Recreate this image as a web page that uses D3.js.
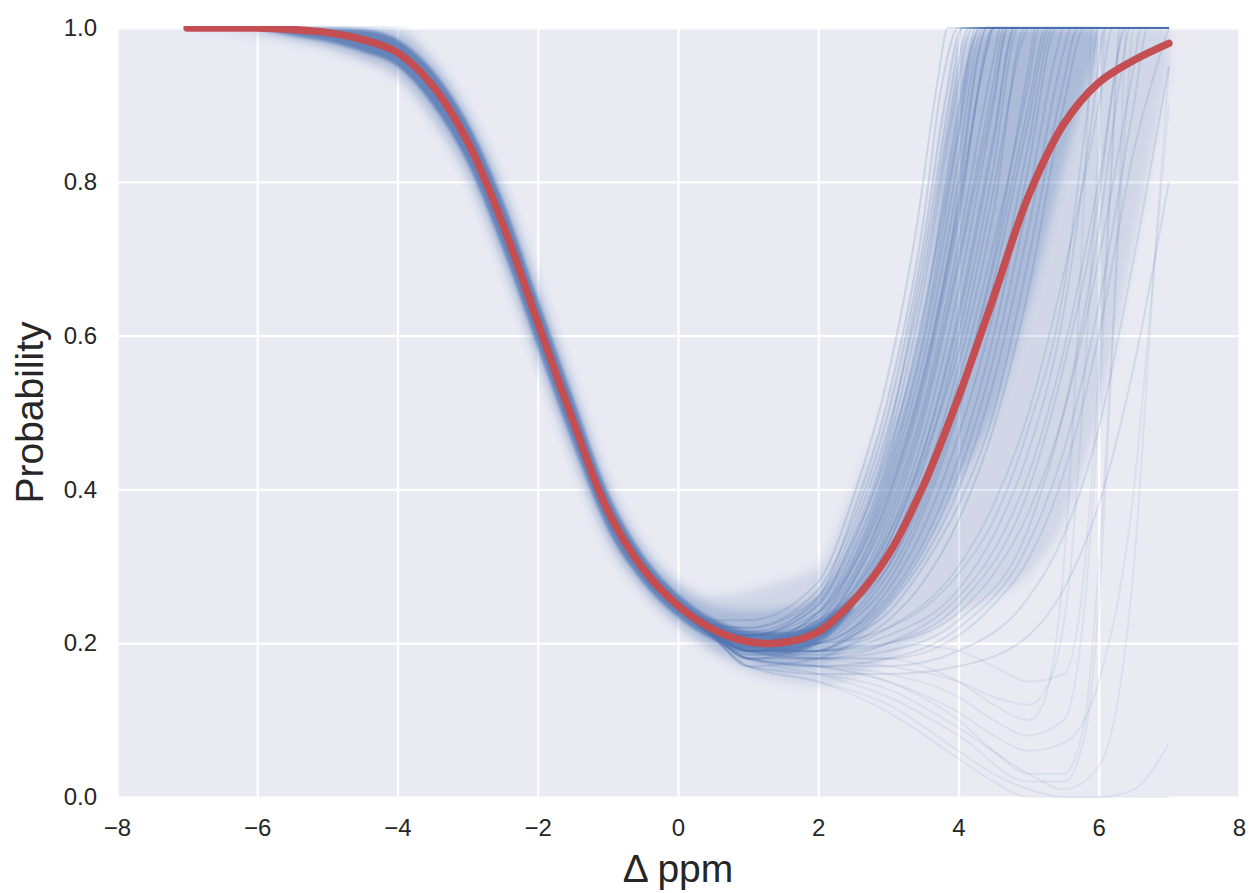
<!DOCTYPE html>
<html>
<head>
<meta charset="utf-8">
<script src="https://cdn.jsdelivr.net/npm/d3@7"></script>
<style>
  body { margin: 0; background: #ffffff; }
  svg { display: block; font-family: "Liberation Sans", Arial, sans-serif; }
</style>
</head>
<body>
<svg id="chart" width="1251" height="893"></svg>
<script>
// ---------------- DATA ----------------
const xGrid = [-7, -6.5, -6, -5.5, -5, -4.5, -4, -3.5, -3, -2.5, -2, -1.5, -1, -0.5, 0,
               0.5, 1, 1.5, 2, 2.5, 3, 3.5, 4, 4.5, 5, 5.5, 6, 6.5, 7];

// red mean curve
const meanP = [1.0, 1.0, 1.0, 0.998, 0.994, 0.985, 0.968, 0.925, 0.852, 0.745, 0.617, 0.49, 0.372, 0.297, 0.249,
               0.218, 0.202, 0.201, 0.215, 0.255, 0.315, 0.405, 0.52, 0.65, 0.782, 0.875, 0.929, 0.958, 0.98];

// faint envelope of all posterior samples
const faintHi = [1, 1, 1, 1, 1, 1, 1, 0.962, 0.895, 0.80, 0.672, 0.543, 0.413, 0.33, 0.282,
                 0.262, 0.268, 0.282, 0.30, 0.40, 0.52, 0.73, 0.98, 1, 1, 1, 1, 1, 1];
const faintLo = [1, 0.996, 0.99, 0.983, 0.972, 0.956, 0.932, 0.876, 0.80, 0.688, 0.562, 0.436, 0.327, 0.265, 0.22,
                 0.185, 0.162, 0.15, 0.145, 0.155, 0.18, 0.21, 0.24, 0.26, 0.29, 0.36, 0.5, 0.72, 0.95];

// denser body of the samples
const midHi = [null, null, 1.0, 1.0, 1.0, 1.0, 0.992, 0.953, 0.885, 0.788, 0.66, 0.531, 0.403, 0.322, 0.274,
               0.249, 0.243, 0.246, 0.265, 0.33, 0.45, 0.62, 0.93, 1, 1, 1, 1.0, null, null];
const midLo = [null, null, 0.998, 0.987, 0.977, 0.962, 0.942, 0.888, 0.812, 0.70, 0.573, 0.448, 0.338, 0.272, 0.226,
               0.195, 0.176, 0.168, 0.172, 0.2, 0.25, 0.32, 0.41, 0.5, 0.64, 0.82, 0.98, null, null];

// dark core where nearly all samples agree
const coreHi = [null, null, 1.0, 1.0, 1.0, 0.998, 0.985, 0.945, 0.877, 0.776, 0.648, 0.52, 0.396, 0.315, 0.264,
                0.232, 0.216, 0.214, 0.228, 0.262, null, null, null, null, null, null, null, null, null];
const coreLo = [null, null, 0.998, 0.99, 0.982, 0.969, 0.95, 0.9, 0.824, 0.713, 0.585, 0.46, 0.348, 0.279, 0.234,
                0.204, 0.188, 0.186, 0.2, 0.244, null, null, null, null, null, null, null, null, null];

// individual posterior sample curves on the right-hand side, as [ppm, probability] knots
const earlyRisers = [
  [[0,.25],[0.5,.225],[1,.22],[2,.27],[2.5,.36],[3,.5],[3.5,.72],[3.8,.9],[4.05,1],[7,1]],
  [[0,.25],[0.5,.222],[1,.21],[2,.25],[2.5,.33],[3,.46],[3.5,.66],[3.9,.88],[4.2,1],[7,1]],
  [[0,.25],[0.5,.22],[1,.2],[2,.24],[2.5,.31],[3,.43],[3.5,.6],[4,.86],[4.3,1],[7,1]],
  [[0,.25],[0.5,.218],[1,.2],[2,.23],[2.5,.3],[3,.41],[3.5,.57],[4,.8],[4.4,1],[7,1]],
  [[0,.248],[0.5,.215],[1,.19],[2,.22],[2.5,.28],[3,.38],[3.5,.53],[4,.75],[4.5,1],[7,1]],
  [[0,.25],[0.5,.22],[1,.21],[2,.24],[2.5,.3],[3,.4],[3.5,.55],[4,.77],[4.35,.95],[4.5,1],[7,1]],
  [[0,.25],[0.5,.218],[1,.2],[2,.22],[2.5,.27],[3,.36],[3.5,.5],[4,.7],[4.5,.93],[4.65,1],[7,1]],
  [[0,.248],[0.5,.215],[1,.19],[2,.21],[2.5,.26],[3,.34],[3.5,.47],[4,.66],[4.5,.9],[4.7,1],[7,1]],
  [[0,.252],[0.5,.225],[1,.22],[2,.26],[2.5,.35],[3,.48],[3.5,.68],[3.85,.87],[4.15,1],[7,1]],
  [[0,.25],[0.5,.22],[1,.2],[2,.23],[2.5,.29],[3,.39],[3.5,.54],[4,.78],[4.3,.97],[4.4,1],[7,1]],
  [[0,.252],[0.5,.225],[1,.21],[2,.26],[2.5,.37],[3,.52],[3.5,.75],[3.75,.92],[4,1],[7,1]],
  [[0,.246],[0.5,.212],[1,.18],[2,.2],[2.5,.25],[3,.33],[3.5,.45],[4,.63],[4.5,.86],[4.8,1],[7,1]],
  [[0,.25],[0.5,.22],[1,.2],[2,.24],[2.5,.32],[3,.44],[3.5,.63],[4,.87],[4.25,1],[7,1]],
  [[0,.248],[0.5,.216],[1,.19],[2,.22],[2.5,.28],[3,.37],[3.5,.51],[4,.72],[4.5,.96],[4.6,1],[7,1]],
  [[0,.255],[0.5,.23],[1,.23],[2,.28],[2.5,.39],[3,.55],[3.4,.74],[3.7,.93],[3.85,1],[7,1]],
  [[0,.252],[0.5,.224],[1,.21],[2,.25],[2.5,.34],[3,.47],[3.5,.7],[3.95,.95],[4.05,1],[7,1]],
  [[0,.25],[0.5,.221],[1,.205],[2,.235],[2.5,.305],[3,.42],[3.5,.59],[4,.83],[4.35,1],[7,1]],
  [[0,.249],[0.5,.219],[1,.2],[2,.225],[2.5,.285],[3,.39],[3.5,.545],[4,.76],[4.4,.97],[4.5,1],[7,1]],
  [[0,.251],[0.5,.222],[1,.215],[2,.255],[2.5,.335],[3,.45],[3.5,.62],[3.9,.84],[4.2,.98],[4.3,1],[7,1]],
  [[0,.249],[0.5,.218],[1,.195],[2,.215],[2.5,.265],[3,.35],[3.5,.49],[4,.69],[4.5,.91],[4.7,1],[7,1]]
];
const middleRisers = [
  [[0,.248],[0.5,.216],[1,.2],[2,.21],[2.5,.24],[3,.3],[3.5,.4],[4,.54],[4.5,.72],[5,.93],[5.15,1],[7,1]],
  [[0,.247],[0.5,.214],[1,.19],[2,.2],[2.5,.23],[3,.28],[3.5,.37],[4,.5],[4.5,.67],[5,.88],[5.3,1],[7,1]],
  [[0,.248],[0.5,.216],[1,.2],[2,.2],[2.5,.22],[3,.26],[3.5,.33],[4,.44],[4.5,.6],[5,.82],[5.4,1],[7,1]],
  [[0,.25],[0.5,.218],[1,.21],[2,.22],[2.5,.26],[3,.32],[3.5,.43],[4,.6],[4.5,.82],[4.85,1],[7,1]],
  [[0,.245],[0.5,.21],[1,.18],[2,.19],[2.5,.21],[3,.25],[3.5,.31],[4,.4],[4.5,.54],[5,.74],[5.5,.97],[5.6,1],[7,1]],
  [[0,.248],[0.5,.216],[1,.2],[2,.21],[2.5,.25],[3,.31],[3.5,.41],[4,.56],[4.5,.76],[4.95,1],[7,1]],
  [[0,.246],[0.5,.213],[1,.19],[2,.19],[2.5,.21],[3,.24],[3.5,.3],[4,.38],[4.5,.5],[5,.7],[5.5,.93],[5.7,1],[7,1]],
  [[0,.248],[0.5,.217],[1,.2],[2,.22],[2.5,.25],[3,.3],[3.5,.39],[4,.52],[4.5,.7],[5,.95],[5.1,1],[7,1]],
  [[0,.244],[0.5,.208],[1,.17],[2,.18],[2.5,.2],[3,.23],[3.5,.28],[4,.36],[4.5,.48],[5,.66],[5.5,.9],[5.8,1],[7,1]],
  [[0,.25],[0.5,.219],[1,.21],[2,.23],[2.5,.27],[3,.34],[3.5,.45],[4,.62],[4.5,.85],[4.8,1],[7,1]],
  [[0,.249],[0.5,.217],[1,.2],[2,.22],[2.5,.26],[3,.33],[3.5,.44],[4,.58],[4.5,.79],[4.9,.98],[5,1],[7,1]],
  [[0,.247],[0.5,.214],[1,.19],[2,.2],[2.5,.22],[3,.27],[3.5,.35],[4,.47],[4.5,.63],[5,.85],[5.35,1],[7,1]],
  [[0,.248],[0.5,.215],[1,.195],[2,.205],[2.5,.235],[3,.29],[3.5,.38],[4,.51],[4.5,.69],[5,.9],[5.25,1],[7,1]],
  [[0,.247],[0.5,.213],[1,.185],[2,.19],[2.5,.215],[3,.255],[3.5,.32],[4,.42],[4.5,.57],[5,.78],[5.4,.97],[5.5,1],[7,1]]
];
const lateRisers = [
  [[0,.246],[0.5,.212],[1,.19],[2,.19],[3,.22],[4,.3],[4.5,.38],[5,.5],[5.5,.68],[6,.9],[6.2,1],[7,1]],
  [[0,.245],[0.5,.21],[1,.18],[2,.18],[3,.2],[4,.26],[4.5,.32],[5,.42],[5.5,.58],[6,.8],[6.4,1],[7,1]],
  [[0,.247],[0.5,.213],[1,.2],[2,.19],[3,.2],[4,.24],[4.5,.29],[5,.37],[5.5,.5],[6,.7],[6.5,.95],[6.6,1],[7,1]],
  [[0,.246],[0.5,.212],[1,.19],[2,.18],[3,.18],[4,.21],[4.5,.25],[5,.31],[5.5,.42],[6,.6],[6.5,.84],[7,1]],
  [[0,.245],[0.5,.21],[1,.18],[2,.17],[3,.17],[4,.19],[5,.26],[5.5,.34],[6,.48],[6.5,.7],[7,.95]],
  [[0,.246],[0.5,.212],[1,.19],[2,.19],[3,.21],[4,.27],[4.5,.34],[5,.45],[5.5,.63],[5.9,.88],[6.1,1],[7,1]],
  [[0,.244],[0.5,.208],[1,.17],[2,.16],[3,.16],[4,.17],[5,.21],[5.5,.27],[6,.38],[6.5,.56],[7,.8]],
  [[0,.247],[0.5,.214],[1,.2],[2,.2],[3,.22],[4,.29],[4.5,.36],[5,.48],[5.5,.66],[5.85,.9],[6,1],[7,1]],
  [[0,.245],[0.5,.21],[1,.18],[2,.17],[3,.18],[4,.22],[5,.33],[5.5,.45],[6,.64],[6.5,.9],[6.7,1],[7,1]],
  [[0,.246],[0.5,.212],[1,.19],[2,.18],[3,.19],[4,.23],[5,.35],[5.5,.5],[6,.74],[6.3,.93],[6.45,1],[7,1]],
  [[0,.246],[0.5,.211],[1,.185],[2,.185],[3,.2],[4,.25],[5,.4],[5.5,.56],[6,.78],[6.25,.95],[6.35,1],[7,1]]
];
const dippers = [
  [[0,.245],[0.5,.21],[1,.18],[2,.17],[3,.15],[4,.1],[4.5,.06],[5,.03],[5.5,.03],[5.8,.1],[6,.3],[6.2,.6],[6.4,.9],[6.5,1],[7,1]],
  [[0,.244],[0.5,.208],[1,.17],[2,.16],[3,.14],[4,.09],[5,.03],[5.5,.01],[6,.04],[6.5,.3],[6.8,.7],[7,.95]],
  [[0,.245],[0.5,.21],[1,.18],[2,.17],[3,.16],[4,.13],[4.5,.1],[5,.08],[5.5,.1],[5.8,.25],[6,.5],[6.2,.85],[6.3,1],[7,1]],
  [[0,.244],[0.5,.208],[1,.17],[2,.15],[3,.12],[4,.06],[4.5,.03],[5,.01],[5.5,0],[6,0],[6.5,.01],[7,.07]],
  [[0,.245],[0.5,.21],[1,.18],[2,.16],[3,.13],[4,.08],[5,.02],[5.5,.02],[5.8,.08],[6,.25],[6.15,.5],[6.3,.8],[6.4,1],[7,1]],
  [[0,.246],[0.5,.212],[1,.19],[2,.18],[3,.17],[4,.15],[4.5,.13],[5,.12],[5.3,.15],[5.6,.3],[5.8,.55],[6,.85],[6.1,1],[7,1]],
  [[0,.244],[0.5,.208],[1,.17],[2,.15],[3,.11],[4,.05],[4.5,.02],[5,0],[6,0],[7,0]],
  [[0,.245],[0.5,.21],[1,.18],[2,.17],[3,.15],[4,.11],[4.5,.08],[5,.06],[5.5,.07],[6,.15],[6.5,.4],[6.8,.7],[7,.9]],
  [[0,.245],[0.5,.21],[1,.18],[2,.18],[3,.18],[3.5,.17],[4,.15],[4.5,.12],[5,.1],[5.2,.12],[5.5,.3],[5.7,.6],[5.85,.9],[5.9,1],[7,1]],
  [[0,.246],[0.5,.212],[1,.19],[2,.19],[3,.2],[4,.19],[4.5,.17],[5,.15],[5.5,.16],[5.8,.3],[6,.55],[6.2,.85],[6.3,1],[7,1]]
];

const xTicks = [-8, -6, -4, -2, 0, 2, 4, 6, 8];
const yTicks = [0.0, 0.2, 0.4, 0.6, 0.8, 1.0];
const xLabel = "\u0394 ppm";
const yLabel = "Probability";

// ---------------- CHART ----------------
const svg = d3.select("#chart");
const plot = { left: 117, right: 1239, top: 28, bottom: 797 };

const x = d3.scaleLinear().domain([-8, 8]).range([plot.left, plot.right]);
const y = d3.scaleLinear().domain([0, 1]).range([plot.bottom, plot.top]);

const BLUE = "#4C72B0";
const RED = "#C44E52";
const TEXT = "#262626";

const defs = svg.append("defs");
defs.append("filter").attr("id", "soft").attr("x", "-5%").attr("y", "-5%").attr("width", "110%").attr("height", "110%")
  .append("feGaussianBlur").attr("stdDeviation", 4);
defs.append("filter").attr("id", "soft2").attr("x", "-5%").attr("y", "-5%").attr("width", "110%").attr("height", "110%")
  .append("feGaussianBlur").attr("stdDeviation", 1.6);
defs.append("clipPath").attr("id", "clip")
  .append("rect")
  .attr("x", plot.left).attr("y", plot.top - 2)
  .attr("width", plot.right - plot.left).attr("height", plot.bottom - plot.top + 3);

// axes background
svg.append("rect")
  .attr("x", plot.left).attr("y", plot.top)
  .attr("width", plot.right - plot.left).attr("height", plot.bottom - plot.top)
  .attr("fill", "#EAEAF2");

// gridlines via axes
const gx = svg.append("g")
  .attr("transform", `translate(0,${plot.bottom})`)
  .call(d3.axisBottom(x).tickValues(xTicks).tickSize(-(plot.bottom - plot.top)).tickFormat(""));
gx.select(".domain").remove();
gx.selectAll("line").attr("stroke", "#ffffff").attr("stroke-width", 2.2);

const gy = svg.append("g")
  .attr("transform", `translate(${plot.left},0)`)
  .call(d3.axisLeft(y).tickValues(yTicks).tickSize(-(plot.right - plot.left)).tickFormat(""));
gy.select(".domain").remove();
gy.selectAll("line").attr("stroke", "#ffffff").attr("stroke-width", 2.2);

const g = svg.append("g").attr("clip-path", "url(#clip)");

function band(hi, lo) {
  return xGrid.map((xv, i) => ({ x: xv, hi: hi[i], lo: lo[i] }));
}
const area = d3.area()
  .defined(d => d.hi != null && d.lo != null)
  .x(d => x(d.x)).y0(d => y(d.lo)).y1(d => y(d.hi))
  .curve(d3.curveMonotoneX);

g.append("path").datum(band(faintHi, faintLo))
  .attr("d", area).attr("fill", BLUE).attr("fill-opacity", 0.16).attr("filter", "url(#soft)");
g.append("path").datum(band(midHi, midLo))
  .attr("d", area).attr("fill", BLUE).attr("fill-opacity", 0.28).attr("filter", "url(#soft)");

const line = d3.line().x(d => x(d[0])).y(d => y(d[1])).curve(d3.curveMonotoneX);
const sampleGroups = [
  { curves: earlyRisers, opacity: 0.19 },
  { curves: middleRisers, opacity: 0.19 },
  { curves: lateRisers, opacity: 0.15 },
  { curves: dippers, opacity: 0.09 }
];
sampleGroups.forEach(grp => {
  g.append("g").selectAll("path").data(grp.curves).join("path")
    .attr("d", line)
    .attr("fill", "none")
    .attr("stroke", BLUE)
    .attr("stroke-opacity", grp.opacity)
    .attr("stroke-width", 2);
});

g.append("path").datum(band(coreHi, coreLo))
  .attr("d", area).attr("fill", BLUE).attr("fill-opacity", 0.75).attr("filter", "url(#soft2)");

// red mean line
const meanLine = d3.line().x((d, i) => x(xGrid[i])).y(d => y(d)).curve(d3.curveCatmullRom.alpha(0.5));
g.append("path").datum(meanP)
  .attr("d", meanLine)
  .attr("fill", "none")
  .attr("stroke", RED)
  .attr("stroke-width", 7.5)
  .attr("stroke-linecap", "round")
  .attr("stroke-linejoin", "round");

// tick labels
const fmtX = d => (d < 0 ? "\u2212" + Math.abs(d) : String(d));
const ax = svg.append("g")
  .attr("transform", `translate(0,${plot.bottom})`)
  .call(d3.axisBottom(x).tickValues(xTicks).tickSize(0).tickPadding(22).tickFormat(fmtX));
ax.select(".domain").remove();
ax.selectAll("text").attr("font-size", 24).attr("fill", TEXT)
  .style("font-family", '"Liberation Sans", Arial, sans-serif');

const ay = svg.append("g")
  .attr("transform", `translate(${plot.left},0)`)
  .call(d3.axisLeft(y).tickValues(yTicks).tickSize(0).tickPadding(20).tickFormat(d3.format(".1f")));
ay.select(".domain").remove();
ay.selectAll("text").attr("font-size", 24).attr("fill", TEXT)
  .style("font-family", '"Liberation Sans", Arial, sans-serif');

// axis labels
svg.append("text")
  .attr("x", (plot.left + plot.right) / 2).attr("y", 882)
  .attr("text-anchor", "middle").attr("font-size", 39).attr("fill", TEXT)
  .text(xLabel);

svg.append("text")
  .attr("transform", `translate(43,${(plot.top + plot.bottom) / 2}) rotate(-90)`)
  .attr("text-anchor", "middle").attr("font-size", 39).attr("fill", TEXT)
  .text(yLabel);
</script>
</body>
</html>
